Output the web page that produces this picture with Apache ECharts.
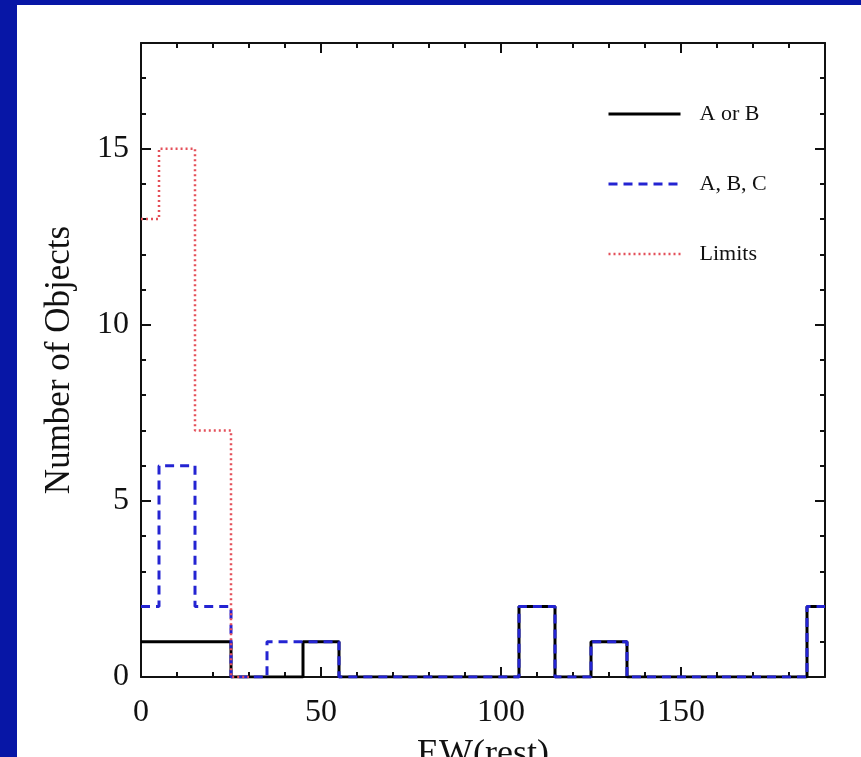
<!DOCTYPE html>
<html>
<head>
<meta charset="utf-8">
<script src="https://cdn.jsdelivr.net/npm/echarts@6/dist/echarts.min.js"></script>
<style>
  html, body { margin: 0; padding: 0; width: 861px; height: 757px; overflow: hidden; background: #0716a6; }
  #chart { position: absolute; left: 17px; top: 5px; width: 844px; height: 752px; background: #fff; }
</style>
</head>
<body>
<div id="chart"></div>
<script>
// bin centres (bin width 10)
const binCenters = [0, 10, 20, 30, 40, 50, 60, 70, 80, 90, 100, 110, 120, 130, 140, 150, 160, 170, 180, 190];
const aOrB   = [1, 1, 1, 0, 0, 1, 0, 0, 0, 0, 0, 2, 0, 1, 0, 0, 0, 0, 0, 2];
const abc    = [2, 6, 2, 0, 1, 1, 0, 0, 0, 0, 0, 2, 0, 1, 0, 0, 0, 0, 0, 2];
const limitCenters = [0, 10, 20, 30];
const limits = [13, 15, 7, 0];
const seriesNames = ["A or B", "A, B, C", "Limits"];

const xMax = 190;
const yMax = 18;
const serif = "Liberation Serif";

const blackStyle = { color: "#000", width: 3 };
const blueStyle = { color: "#2424d2", width: 3, type: [9, 6] };
const redStyle = { color: "#e4505a", width: 2.5, type: [2, 3] };

let chart = echarts.init(document.getElementById("chart"));

const pairs = (xs, ys) => xs.map((x, i) => [x, ys[i]]);

// axis helper: major ticks + labels, or just short minor ticks
const frameX = (pos, interval, len, labels, withLine) => ({
  type: "value",
  position: pos,
  min: 0,
  max: xMax,
  interval: interval,
  axisLine: { show: withLine, onZero: false, lineStyle: { color: "#111", width: 2 } },
  axisTick: { show: true, inside: true, length: len, lineStyle: { color: "#111", width: 2 } },
  axisLabel: {
    show: labels,
    showMaxLabel: false,
    margin: 20,
    color: "#111",
    fontFamily: serif,
    fontSize: 32,
  },
  splitLine: { show: false },
});

const frameY = (pos, interval, len, labels, withLine) => ({
  type: "value",
  position: pos,
  min: 0,
  max: yMax,
  interval: interval,
  axisLine: { show: withLine, onZero: false, lineStyle: { color: "#111", width: 2 } },
  axisTick: { show: true, inside: true, length: len, lineStyle: { color: "#111", width: 2 } },
  axisLabel: {
    show: labels,
    showMaxLabel: false,
    margin: 12,
    color: "#111",
    fontFamily: serif,
    fontSize: 32,
  },
  splitLine: { show: false },
});

let xAxes = [
  frameX("bottom", 50, 10, true, true),
  frameX("bottom", 10, 5, false, false),
  frameX("top", 50, 10, false, true),
  frameX("top", 10, 5, false, false),
];
xAxes[0].name = "EW(rest)";
xAxes[0].nameLocation = "middle";
xAxes[0].nameGap = 60;
xAxes[0].nameTextStyle = { color: "#111", fontFamily: serif, fontSize: 36 };

let yAxes = [
  frameY("left", 5, 10, true, true),
  frameY("left", 1, 5, false, false),
  frameY("right", 5, 10, false, true),
  frameY("right", 1, 5, false, false),
];
yAxes[0].name = "Number of Objects";
yAxes[0].nameLocation = "middle";
yAxes[0].nameGap = 64;
yAxes[0].nameTextStyle = { color: "#111", fontFamily: serif, fontSize: 35 };

let option = {
  animation: false,
  grid: { left: 124, top: 38, right: 36, bottom: 80, outerBoundsMode: "none", containLabel: false },
  legend: {
    orient: "vertical",
    left: 585,
    top: 93,
    itemWidth: 72,
    itemHeight: 14,
    itemGap: 48,
    data: [
      { name: seriesNames[0], lineStyle: blackStyle },
      { name: seriesNames[1], lineStyle: blueStyle },
      { name: seriesNames[2], lineStyle: redStyle },
    ],
    itemStyle: { opacity: 0 },
    textStyle: {
      color: "#111",
      fontFamily: serif,
      fontSize: 22,
      lineHeight: 22,
      padding: [0, 0, 0, 14],
    },
  },
  xAxis: xAxes,
  yAxis: yAxes,
  series: [
    {
      name: seriesNames[0],
      type: "line",
      step: "middle",
      symbol: "none",
      data: pairs(binCenters, aOrB),
      lineStyle: blackStyle,
      itemStyle: { color: "#000" },
    },
    {
      name: seriesNames[1],
      type: "line",
      step: "middle",
      symbol: "none",
      data: pairs(binCenters, abc),
      lineStyle: blueStyle,
      itemStyle: { color: "#2424d2" },
    },
    {
      name: seriesNames[2],
      type: "line",
      step: "middle",
      symbol: "none",
      data: pairs(limitCenters, limits),
      lineStyle: redStyle,
      itemStyle: { color: "#e4505a" },
    },
  ],
};

chart.setOption(option);
</script>
</body>
</html>
